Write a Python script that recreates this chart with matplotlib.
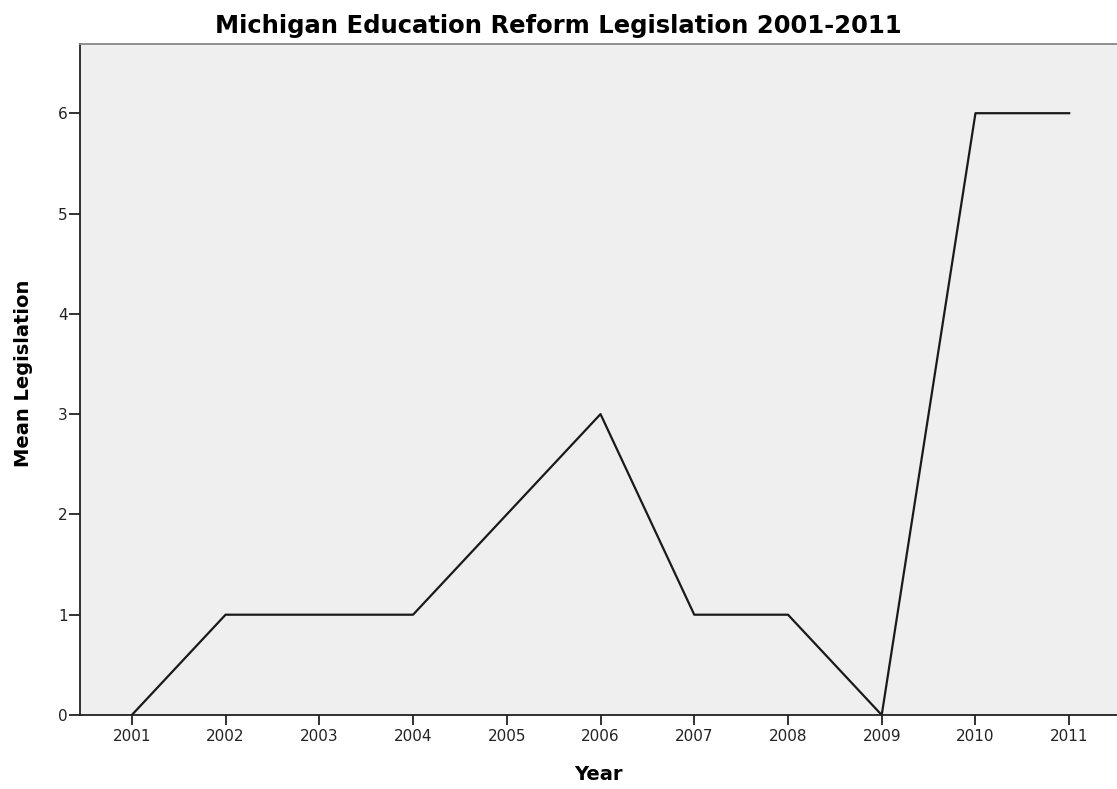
import matplotlib
matplotlib.use("Agg")
import matplotlib.pyplot as plt

years = [2001, 2002, 2003, 2004, 2005, 2006, 2007, 2008, 2009, 2010, 2011]
mean_legislation = [0, 1, 1, 1, 2, 3, 1, 1, 0, 6, 6]
y_ticks = [0, 1, 2, 3, 4, 5, 6]

plt.rcParams['font.family'] = ['DejaVu Sans']

fig = plt.figure(figsize=(11.17, 7.89), dpi=100)
ax = fig.add_axes([80/1117, 74/789, 1 - 80/1117, (715-44)/789])
ax.set_facecolor('#efefef')
ax.plot(years, mean_legislation, color='#1a1a1a', linewidth=1.6)

ax.set_xlim(2000.447, 2011.51)
ax.set_ylim(0, 6.69)
ax.set_xticks(years)
ax.set_xticklabels([str(y) for y in years])
ax.set_yticks(y_ticks)

ax.tick_params(axis='both', direction='out', width=1.3, color='#222222',
               labelsize=11, labelcolor='#222222')
ax.tick_params(axis='x', length=7, pad=3)
ax.tick_params(axis='y', length=8, pad=1)
for s in ['left', 'bottom']:
    ax.spines[s].set_color('#222222')
    ax.spines[s].set_linewidth(1.3)
ax.spines['top'].set_color('#888888')
ax.spines['top'].set_linewidth(1.3)
ax.spines['right'].set_visible(False)

ax.set_xlabel('Year', fontsize=14, fontweight='bold', labelpad=15)
ax.set_ylabel('Mean Legislation', fontsize=14, fontweight='bold')
ax.yaxis.set_label_coords(-0.0455, (715 - 373) / 671)
fig.text(0.5, 1 - 26/789, 'Michigan Education Reform Legislation 2001-2011',
         fontsize=17.5, fontweight='bold', ha='center', va='center')

fig.savefig('out.png', dpi=100)
